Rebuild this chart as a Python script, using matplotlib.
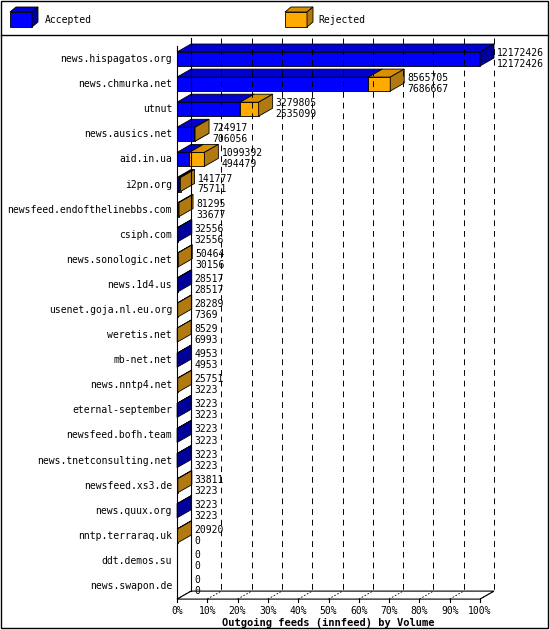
"""Outgoing feeds (innfeed) by volume, drawn as a pseudo-3D bar chart."""

import matplotlib
matplotlib.use("Agg")
import matplotlib.pyplot as plt
from matplotlib.patches import Polygon, Rectangle

HOSTS = [
    "news.hispagatos.org", "news.chmurka.net", "utnut", "news.ausics.net",
    "aid.in.ua", "i2pn.org", "newsfeed.endofthelinebbs.com", "csiph.com",
    "news.sonologic.net", "news.1d4.us", "usenet.goja.nl.eu.org", "weretis.net",
    "mb-net.net", "news.nntp4.net", "eternal-september", "newsfeed.bofh.team",
    "news.tnetconsulting.net", "newsfeed.xs3.de", "news.quux.org",
    "nntp.terraraq.uk", "ddt.demos.su", "news.swapon.de",
]
OFFERED = [12172426, 8565705, 3279805, 724917, 1099392, 141777, 81295, 32556,
           50464, 28517, 28289, 8529, 4953, 25751, 3223, 3223, 3223, 33811,
           3223, 20920, 0, 0]
ACCEPTED = [12172426, 7686667, 2535099, 706056, 494479, 75711, 33677, 32556,
            30156, 28517, 7369, 6993, 4953, 3223, 3223, 3223, 3223, 3223,
            3223, 0, 0, 0]
TICKS = list(range(0, 101, 10))

BLUE, BLUE_TOP, BLUE_SIDE = "#0000ff", "#0000d0", "#00009a"
ORANGE, ORANGE_TOP, ORANGE_SIDE = "#ffaa00", "#d89000", "#b07a10"

X0, X100 = 177, 480
DX, DY = 14, -8
ROW0, PITCH, HALF = 59, 25.1, 7
FONT = "DejaVu Sans Mono"

fig = plt.figure(figsize=(5.5, 6.3), dpi=100)
ax = fig.add_axes([0, 0, 1, 1])
ax.set_xlim(0, 550)
ax.set_ylim(630, 0)
ax.axis("off")


def xpos(pct):
    return X0 + (X100 - X0) * pct / 100.0


def box(x1, x2, yc, front, top, side):
    y1, y2 = yc - HALF, yc + HALF
    if x2 > x1:
        ax.add_patch(Rectangle((x1, y1), x2 - x1, y2 - y1, fc=front, ec="black", lw=0.6))
        ax.add_patch(Polygon([(x1, y1), (x1 + DX, y1 + DY), (x2 + DX, y1 + DY), (x2, y1)],
                             fc=top, ec="black", lw=0.6))
    ax.add_patch(Polygon([(x2, y1), (x2 + DX, y1 + DY), (x2 + DX, y2 + DY), (x2, y2)],
                         fc=side, ec="black", lw=0.6))


# frame and legend
ax.add_patch(Rectangle((1, 1), 547, 627, fc="white", ec="black", lw=1))
ax.plot([1, 548], [35, 35], color="black", lw=1)
for lx, tx, label, cols in [(10, 45, "Accepted", (BLUE, BLUE_TOP, BLUE_SIDE)),
                            (285, 318, "Rejected", (ORANGE, ORANGE_TOP, ORANGE_SIDE))]:
    ax.add_patch(Rectangle((lx, 12), 22, 15, fc=cols[0], ec="black", lw=0.6))
    ax.add_patch(Polygon([(lx, 12), (lx + 6, 7), (lx + 28, 7), (lx + 22, 12)], fc=cols[1], ec="black", lw=0.6))
    ax.add_patch(Polygon([(lx + 22, 12), (lx + 28, 7), (lx + 28, 22), (lx + 22, 27)], fc=cols[2], ec="black", lw=0.6))
    ax.text(tx, 20, label, fontsize=7, family=FONT, va="center")

n = len(HOSTS)
top = ROW0 - HALF + DY - 6
bottom = ROW0 + (n - 1) * PITCH + HALF + 6

# back wall grid and floor
ax.plot([X0 + DX, X0 + DX], [top, bottom + DY], color="black", lw=0.8)
for t in TICKS[1:]:
    gx = xpos(t) + DX
    ax.plot([gx, gx], [top, bottom + DY], color="black", lw=0.7, ls=(0, (6, 5)))
ax.plot([X0, X0], [top - DY, bottom], color="black", lw=0.8)
ax.add_patch(Polygon([(X0, bottom), (X0 + DX, bottom + DY), (X100 + DX, bottom + DY), (X100, bottom)],
                     fc="white", ec="black", lw=0.8))
for t in TICKS:
    tx = xpos(t)
    ax.plot([tx, tx + DX], [bottom, bottom + DY], color="black", lw=0.6, ls=(0, (2, 2)))
    ax.plot([tx, tx], [bottom, bottom + 3], color="black", lw=0.8)
    ax.text(tx, bottom + 12, f"{t}%", fontsize=7, family=FONT, ha="center", va="center")
ax.text((X0 + X100) / 2, bottom + 24, "Outgoing feeds (innfeed) by Volume", fontsize=7.5,
        family=FONT, weight="bold", ha="center", va="center")

vmax = max(OFFERED)
for i, (host, off, acc) in enumerate(zip(HOSTS, OFFERED, ACCEPTED)):
    yc = ROW0 + i * PITCH
    ax.text(X0 - 5, yc, host, fontsize=7, family=FONT, ha="right", va="center")
    xa = xpos(100.0 * acc / vmax)
    xo = xpos(100.0 * off / vmax)
    if off > 0:
        if off > acc:
            if xa - X0 >= 1:
                box(X0, xa, yc, BLUE, BLUE_TOP, BLUE_SIDE)
            box(xa, xo, yc, ORANGE, ORANGE_TOP, ORANGE_SIDE)
        else:
            box(X0, xa, yc, BLUE, BLUE_TOP, BLUE_SIDE)
    ex = xo + DX + 3
    ax.text(ex, yc - 6, f"{off}", fontsize=7, family=FONT, va="center")
    ax.text(ex, yc + 5, f"{acc}", fontsize=7, family=FONT, va="center")

fig.savefig("out.png", dpi=100)
